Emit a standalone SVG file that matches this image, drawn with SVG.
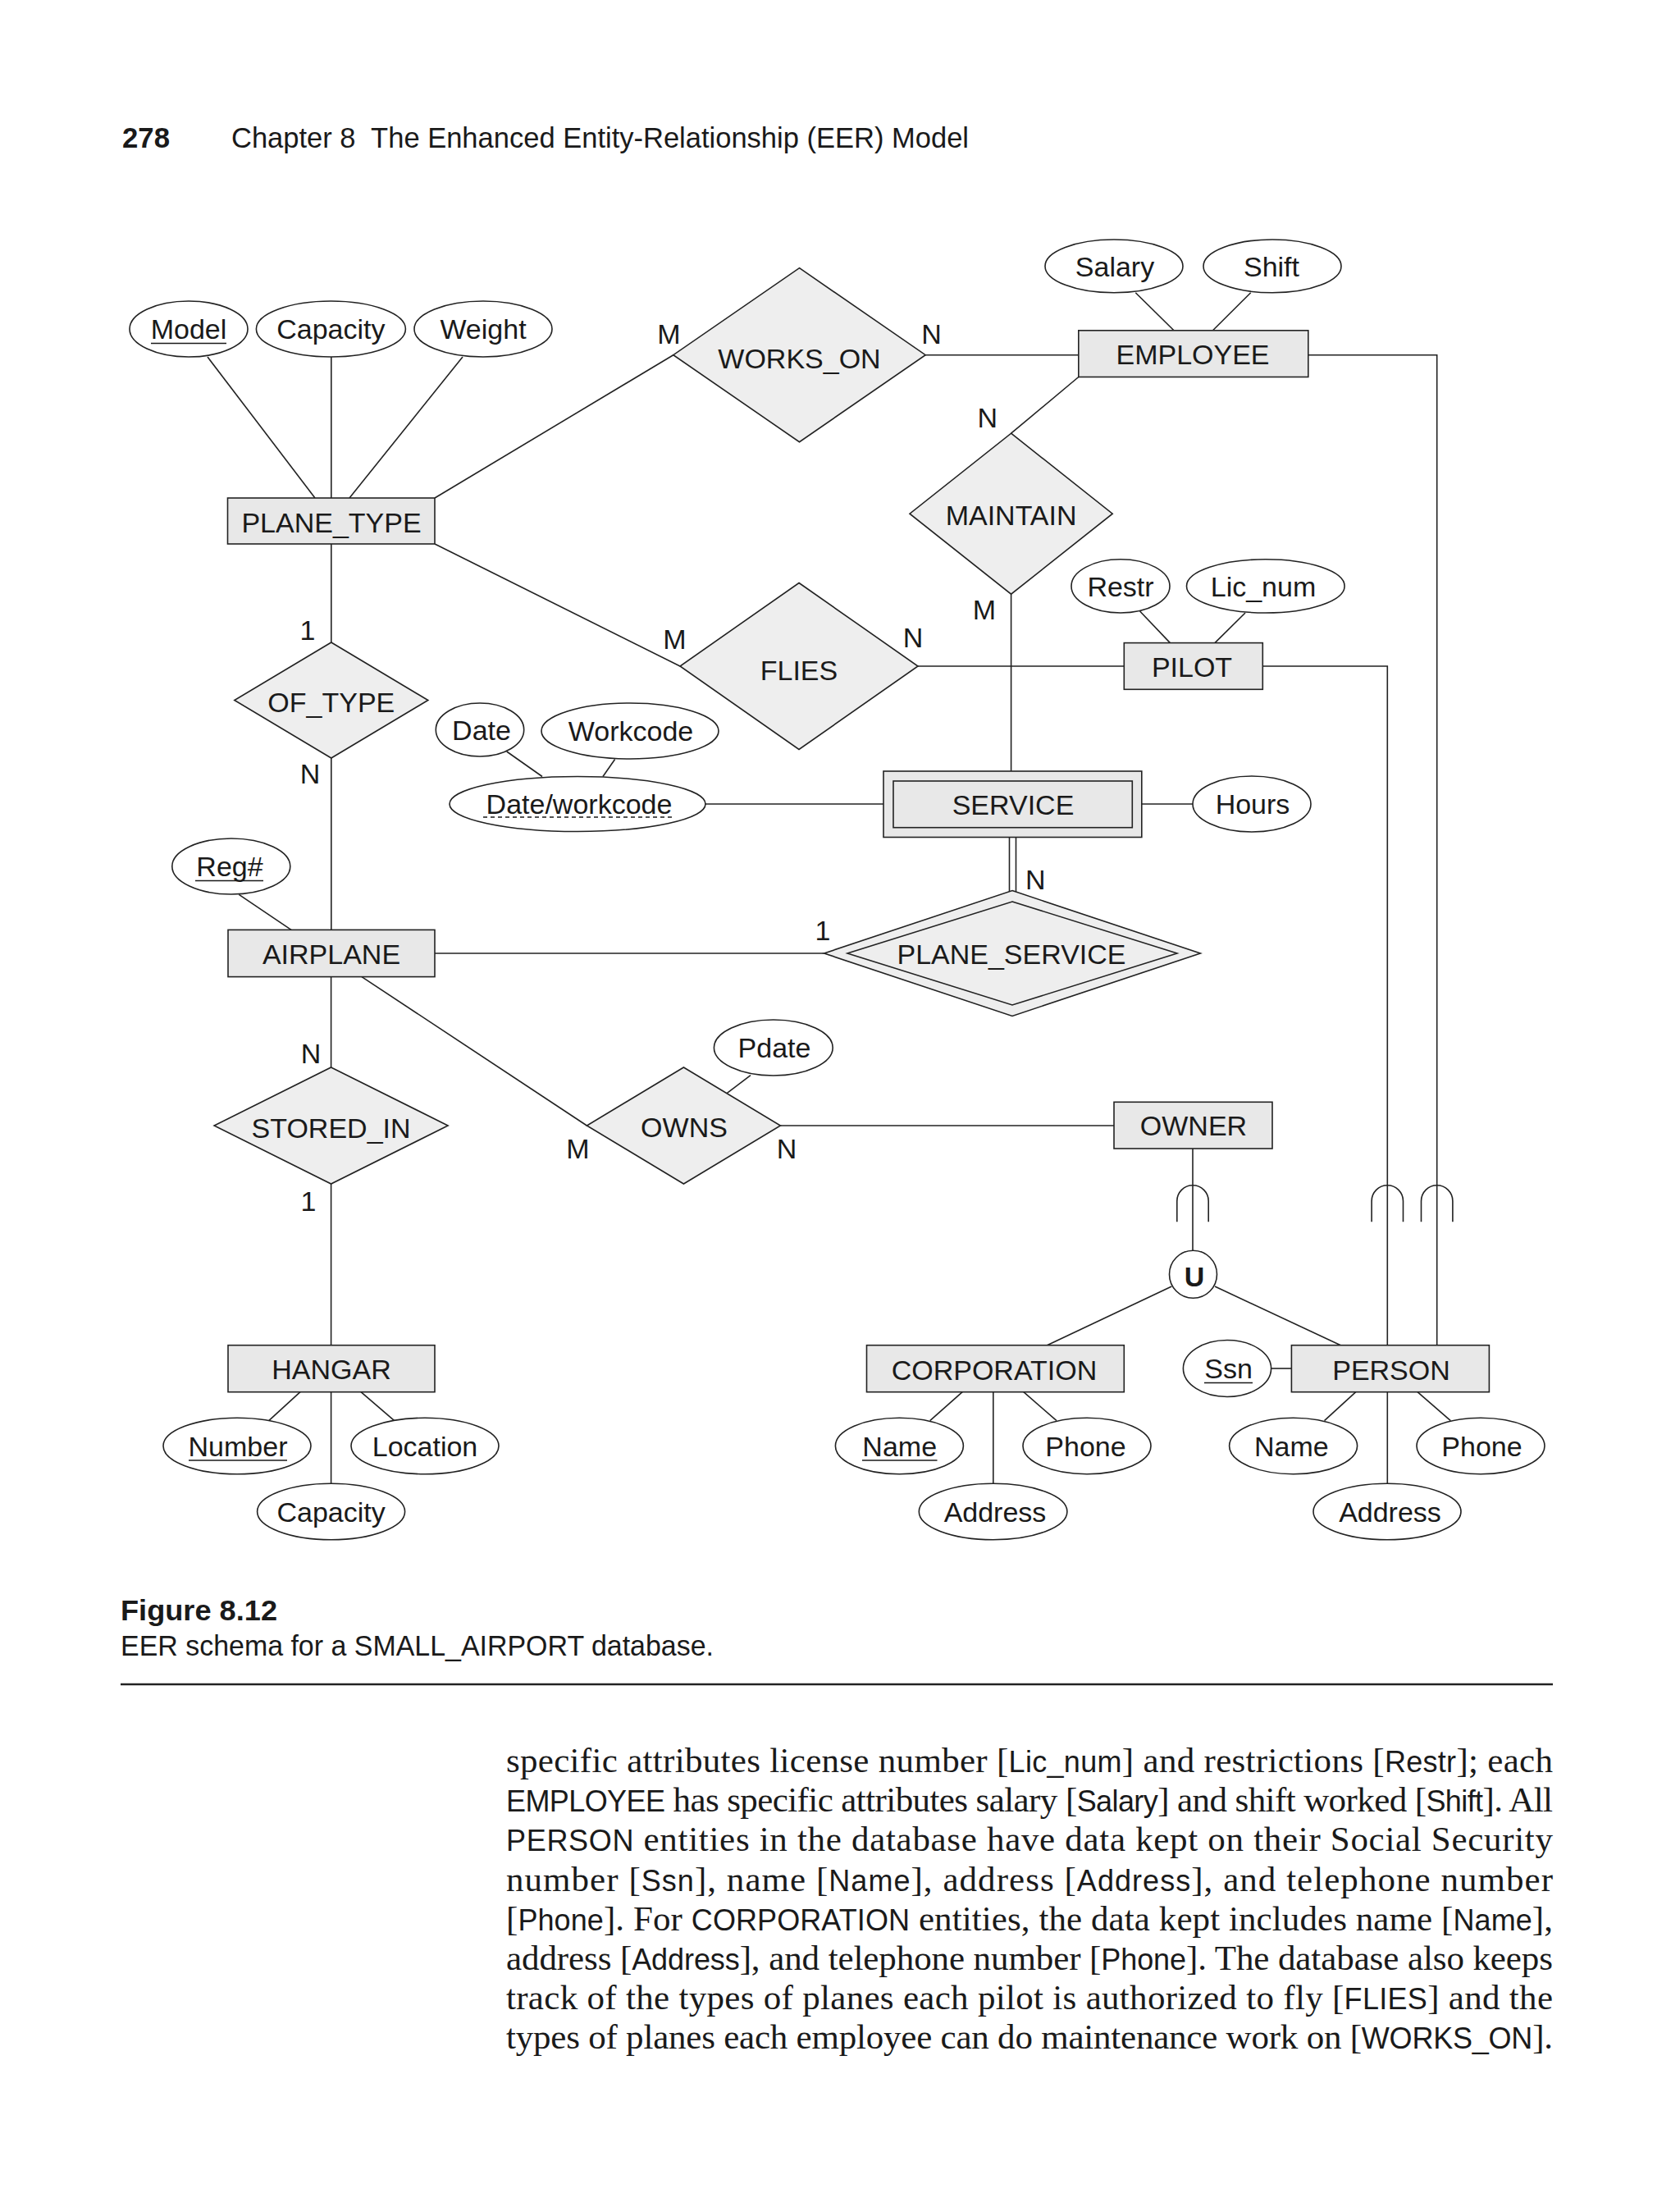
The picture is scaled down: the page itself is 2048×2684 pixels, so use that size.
<svg xmlns="http://www.w3.org/2000/svg" width="2048" height="2684" viewBox="0 0 2048 2684">
<style>
.ent{fill:#e8e8e8;stroke:#222;stroke-width:1.6}
.rel{fill:#eeeeee;stroke:#222;stroke-width:1.6}
.att{fill:#fff;stroke:#222;stroke-width:1.6}
.ln{stroke:#222;stroke-width:1.6;fill:none}
.ul{stroke:#1a1a1a;stroke-width:1.6}
.lbl{font-family:"Liberation Sans",Arial,sans-serif;font-size:34px;fill:#1a1a1a;text-anchor:middle}
.card{font-family:"Liberation Sans",Arial,sans-serif;font-size:34px;fill:#1a1a1a;text-anchor:middle}
.hdr{font-family:"Liberation Sans",Arial,sans-serif;font-size:35px;fill:#1a1a1a}
.body{font-family:"Liberation Serif","Times New Roman",serif;font-size:43px;fill:#1a1a1a}
.s{font-family:"Liberation Sans",Arial,sans-serif;font-size:36px}
</style>
<rect x="0" y="0" width="2048" height="2684" fill="#fff"/>

<!-- header -->
<text class="hdr" x="149" y="180" font-weight="bold" textLength="58" lengthAdjust="spacingAndGlyphs">278</text>
<text class="hdr" x="282" y="180" textLength="899" lengthAdjust="spacingAndGlyphs" xml:space="preserve">Chapter 8  The Enhanced Entity-Relationship (EER) Model</text>

<!-- connectors -->
<g id="connectors">
<line class="ln" x1="253" y1="435" x2="384" y2="607"/>
<line class="ln" x1="403.8" y1="435" x2="403.8" y2="607"/>
<line class="ln" x1="564" y1="435" x2="426" y2="607"/>
<line class="ln" x1="530" y1="607" x2="820.8" y2="432.7"/>
<line class="ln" x1="1128.2" y1="432.7" x2="1314.8" y2="432.7"/>
<line class="ln" x1="1384.3" y1="356.8" x2="1431" y2="402.8"/>
<line class="ln" x1="1524.7" y1="356.8" x2="1478.5" y2="402.8"/>
<polyline class="ln" points="1594.8,432.7 1751.7,432.7 1751.7,1639.7"/>
<line class="ln" x1="1314.8" y1="459.5" x2="1232.6" y2="528.2"/>
<line class="ln" x1="1232.6" y1="724.2" x2="1232.6" y2="940"/>
<line class="ln" x1="530" y1="663" x2="829" y2="812"/>
<line class="ln" x1="1119" y1="812" x2="1370.3" y2="812"/>
<line class="ln" x1="1389.6" y1="745" x2="1426.4" y2="783.6"/>
<line class="ln" x1="1518" y1="747" x2="1481" y2="783.6"/>
<polyline class="ln" points="1539.3,812 1691.3,812 1691.3,1639.7"/>
<line class="ln" x1="403.8" y1="663" x2="403.8" y2="783"/>
<line class="ln" x1="403.8" y1="924" x2="403.8" y2="1133.4"/>
<line class="ln" x1="617.7" y1="916" x2="661" y2="946.5"/>
<line class="ln" x1="749.6" y1="925.5" x2="735" y2="946.5"/>
<line class="ln" x1="860" y1="980" x2="1077" y2="980"/>
<line class="ln" x1="1391.8" y1="980" x2="1454" y2="980"/>
<line class="ln" x1="1230.5" y1="1020.5" x2="1230.5" y2="1087"/>
<line class="ln" x1="1238.5" y1="1020.5" x2="1238.5" y2="1087"/>
<line class="ln" x1="291.3" y1="1090.3" x2="355" y2="1133.4"/>
<line class="ln" x1="530" y1="1162" x2="1004.6" y2="1162"/>
<line class="ln" x1="403.6" y1="1190.6" x2="403.6" y2="1301"/>
<line class="ln" x1="441" y1="1190.6" x2="715.4" y2="1372"/>
<line class="ln" x1="915" y1="1310.6" x2="886.4" y2="1332.3"/>
<line class="ln" x1="951.4" y1="1372" x2="1358" y2="1372"/>
<line class="ln" x1="1454" y1="1400" x2="1454" y2="1524.3"/>
<line class="ln" x1="1428.3" y1="1568" x2="1276.5" y2="1639.7"/>
<line class="ln" x1="1481" y1="1568" x2="1634.3" y2="1639.7"/>
<path class="ln" d="M1434.8 1489.3 V1464 A19.2 19.2 0 0 1 1473.2 1464 V1489.3"/>
<path class="ln" d="M1672.1 1489.3 V1464 A19.2 19.2 0 0 1 1710.5 1464 V1489.3"/>
<path class="ln" d="M1732.5 1489.3 V1464 A19.2 19.2 0 0 1 1770.9 1464 V1489.3"/>
<line class="ln" x1="403.6" y1="1443" x2="403.6" y2="1639.7"/>
<line class="ln" x1="366" y1="1696.7" x2="327.7" y2="1731.7"/>
<line class="ln" x1="403.6" y1="1696.7" x2="403.6" y2="1808.3"/>
<line class="ln" x1="440" y1="1696.7" x2="480.7" y2="1731.7"/>
<line class="ln" x1="1173.2" y1="1696.7" x2="1133.7" y2="1731.7"/>
<line class="ln" x1="1210.8" y1="1696.7" x2="1210.8" y2="1808.3"/>
<line class="ln" x1="1247.8" y1="1696.7" x2="1288" y2="1731.7"/>
<line class="ln" x1="1549.5" y1="1668" x2="1574.4" y2="1668"/>
<line class="ln" x1="1652.8" y1="1696.7" x2="1614.5" y2="1731.7"/>
<line class="ln" x1="1691.3" y1="1696.7" x2="1691.3" y2="1808.3"/>
<line class="ln" x1="1728" y1="1696.7" x2="1768.3" y2="1731.7"/>
</g>

<!-- cardinalities -->
<g id="cardinalities">
<text class="card" x="815.5" y="419">M</text>
<text class="card" x="1135.5" y="419">N</text>
<text class="card" x="1203.7" y="521">N</text>
<text class="card" x="1200" y="755">M</text>
<text class="card" x="822.5" y="791">M</text>
<text class="card" x="1113" y="789">N</text>
<text class="card" x="375" y="780">1</text>
<text class="card" x="378" y="955">N</text>
<text class="card" x="1262.4" y="1084">N</text>
<text class="card" x="1003" y="1146">1</text>
<text class="card" x="379" y="1295.5">N</text>
<text class="card" x="376" y="1476">1</text>
<text class="card" x="704.3" y="1412">M</text>
<text class="card" x="959" y="1412">N</text>
</g>

<!-- entities -->
<g id="PLANE_TYPE"><rect class="ent" x="277.5" y="607" width="252.5" height="56"/><text class="lbl" x="404" y="649">PLANE_TYPE</text></g>
<g id="EMPLOYEE"><rect class="ent" x="1314.8" y="402.8" width="280" height="56.7"/><text class="lbl" x="1454" y="444">EMPLOYEE</text></g>
<g id="PILOT"><rect class="ent" x="1370.3" y="783.6" width="169" height="56.7"/><text class="lbl" x="1453" y="825">PILOT</text></g>
<g id="SERVICE"><rect class="ent" x="1077" y="940" width="314.8" height="80.5"/><rect class="ent" x="1089" y="952" width="291.3" height="56.7"/><text class="lbl" x="1235" y="993">SERVICE</text></g>
<g id="AIRPLANE"><rect class="ent" x="278" y="1133.4" width="252" height="57.2"/><text class="lbl" x="404" y="1175">AIRPLANE</text></g>
<g id="OWNER"><rect class="ent" x="1358" y="1343.3" width="193" height="56.7"/><text class="lbl" x="1455" y="1384">OWNER</text></g>
<g id="HANGAR"><rect class="ent" x="278" y="1639.7" width="252" height="57"/><text class="lbl" x="404" y="1681">HANGAR</text></g>
<g id="CORPORATION"><rect class="ent" x="1056.5" y="1639.7" width="313.8" height="57"/><text class="lbl" x="1212" y="1682">CORPORATION</text></g>
<g id="PERSON"><rect class="ent" x="1574.4" y="1639.7" width="241" height="57"/><text class="lbl" x="1696" y="1682">PERSON</text></g>

<!-- relationships -->
<g id="WORKS_ON"><polygon class="rel" points="974.5,326.7 1128.2,432.7 974.5,538.7 820.8,432.7"/><text class="lbl" x="974.5" y="449">WORKS_ON</text></g>
<g id="MAINTAIN"><polygon class="rel" points="1232.6,528.2 1356.2,626.2 1232.6,724.2 1109,626.2"/><text class="lbl" x="1232.6" y="639.5">MAINTAIN</text></g>
<g id="FLIES"><polygon class="rel" points="974,710.5 1119,812 974,913.5 829,812"/><text class="lbl" x="974" y="829">FLIES</text></g>
<g id="OF_TYPE"><polygon class="rel" points="403.8,783 521.8,853.5 403.8,924 285.8,853.5"/><text class="lbl" x="403.8" y="868">OF_TYPE</text></g>
<g id="PLANE_SERVICE"><polygon class="rel" points="1234,1085.6 1463.4,1162 1234,1238.4 1004.6,1162"/><polygon class="rel" points="1234,1099 1435,1162 1234,1225 1033,1162"/><text class="lbl" x="1233" y="1175">PLANE_SERVICE</text></g>
<g id="STORED_IN"><polygon class="rel" points="403.6,1301 546.1,1372 403.6,1443 261.1,1372"/><text class="lbl" x="403.6" y="1386.5">STORED_IN</text></g>
<g id="OWNS"><polygon class="rel" points="833.4,1301 951.4,1372 833.4,1443 715.4,1372"/><text class="lbl" x="834" y="1386">OWNS</text></g>

<!-- attributes -->
<g id="attr_Model"><ellipse class="att" cx="230" cy="401" rx="72" ry="34"/><text class="lbl" x="230" y="413">Model</text><line class="ul" x1="184" y1="418.5" x2="276" y2="418.5"/></g>
<g id="attr_Capacity_PT"><ellipse class="att" cx="403.4" cy="401" rx="91" ry="34"/><text class="lbl" x="403.4" y="413">Capacity</text></g>
<g id="attr_Weight"><ellipse class="att" cx="589" cy="401" rx="84" ry="34"/><text class="lbl" x="589" y="413">Weight</text></g>
<g id="attr_Salary"><ellipse class="att" cx="1358" cy="324.4" rx="84" ry="32.4"/><text class="lbl" x="1359" y="336.5">Salary</text></g>
<g id="attr_Shift"><ellipse class="att" cx="1551" cy="324.4" rx="84" ry="32.4"/><text class="lbl" x="1550" y="336.5">Shift</text></g>
<g id="attr_Restr"><ellipse class="att" cx="1366" cy="714.4" rx="60" ry="32.6"/><text class="lbl" x="1366" y="726.5">Restr</text></g>
<g id="attr_Lic_num"><ellipse class="att" cx="1542.8" cy="714.4" rx="96.3" ry="32.6"/><text class="lbl" x="1540" y="726.5">Lic_num</text></g>
<g id="attr_Date"><ellipse class="att" cx="585" cy="889.5" rx="53.7" ry="32.5"/><text class="lbl" x="587" y="901.5">Date</text></g>
<g id="attr_Workcode"><ellipse class="att" cx="768" cy="891" rx="108" ry="34"/><text class="lbl" x="769" y="903">Workcode</text></g>
<g id="attr_Datework"><ellipse class="att" cx="704" cy="980" rx="156" ry="33.5"/><text class="lbl" x="706" y="992">Date/workcode</text><line class="ul" x1="589" y1="996" x2="823" y2="996" stroke-dasharray="5,4"/></g>
<g id="attr_Hours"><ellipse class="att" cx="1526" cy="980" rx="72" ry="34"/><text class="lbl" x="1527" y="992">Hours</text></g>
<g id="attr_Reg"><ellipse class="att" cx="281.8" cy="1056" rx="72" ry="34"/><text class="lbl" x="280" y="1068">Reg#</text><line class="ul" x1="238" y1="1073.5" x2="321" y2="1073.5"/></g>
<g id="attr_Pdate"><ellipse class="att" cx="942.8" cy="1277" rx="72.4" ry="34"/><text class="lbl" x="944" y="1289">Pdate</text></g>
<g id="attr_Number"><ellipse class="att" cx="289" cy="1762.5" rx="90" ry="34.2"/><text class="lbl" x="290" y="1774.5">Number</text><line class="ul" x1="230" y1="1780" x2="350" y2="1780"/></g>
<g id="attr_Location"><ellipse class="att" cx="518" cy="1762.5" rx="90" ry="34.2"/><text class="lbl" x="518" y="1774.5">Location</text></g>
<g id="attr_Capacity_H"><ellipse class="att" cx="403.6" cy="1842.5" rx="90" ry="34.2"/><text class="lbl" x="403.6" y="1854.5">Capacity</text></g>
<g id="attr_Name_C"><ellipse class="att" cx="1096.4" cy="1762.5" rx="78" ry="34.2"/><text class="lbl" x="1096.7" y="1774.5">Name</text><line class="ul" x1="1051" y1="1780" x2="1142.5" y2="1780"/></g>
<g id="attr_Phone_C"><ellipse class="att" cx="1325" cy="1762.5" rx="78" ry="34.2"/><text class="lbl" x="1323.5" y="1774.5">Phone</text></g>
<g id="attr_Address_C"><ellipse class="att" cx="1210.6" cy="1842.5" rx="90.3" ry="34.2"/><text class="lbl" x="1213" y="1854.5">Address</text></g>
<g id="attr_Ssn"><ellipse class="att" cx="1496" cy="1668" rx="53.6" ry="34.5"/><text class="lbl" x="1497.5" y="1680">Ssn</text><line class="ul" x1="1468" y1="1685.5" x2="1527" y2="1685.5"/></g>
<g id="attr_Name_P"><ellipse class="att" cx="1576.6" cy="1762.5" rx="78" ry="34.2"/><text class="lbl" x="1574.4" y="1774.5">Name</text></g>
<g id="attr_Phone_P"><ellipse class="att" cx="1805" cy="1762.5" rx="78" ry="34.2"/><text class="lbl" x="1806.5" y="1774.5">Phone</text></g>
<g id="attr_Address_P"><ellipse class="att" cx="1691" cy="1842.5" rx="90" ry="34.2"/><text class="lbl" x="1694.5" y="1854.5">Address</text></g>

<!-- union category -->
<g id="union_U"><circle class="att" cx="1454.5" cy="1553.3" r="29"/><text class="lbl" x="1456" y="1567.5" font-weight="bold" font-size="36px">U</text></g>

<!-- caption -->
<text class="hdr" x="147" y="1975" font-weight="bold" textLength="191" lengthAdjust="spacingAndGlyphs">Figure 8.12</text>
<text class="hdr" x="147" y="2018" font-size="34px" textLength="723" lengthAdjust="spacingAndGlyphs">EER schema for a SMALL_AIRPORT database.</text>
<line x1="147" y1="2053" x2="1893" y2="2053" stroke="#222" stroke-width="2.5"/>

<!-- body text -->
<text class="body" x="617" y="2160" textLength="1276" lengthAdjust="spacing">specific attributes license number [<tspan class="s">Lic_num</tspan>] and restrictions [<tspan class="s">Restr</tspan>]; each</text>
<text class="body" x="617" y="2208.2" textLength="1276" lengthAdjust="spacing"><tspan class="s">EMPLOYEE</tspan> has specific attributes salary [<tspan class="s">Salary</tspan>] and shift worked [<tspan class="s">Shift</tspan>]. All</text>
<text class="body" x="617" y="2256.3" textLength="1276" lengthAdjust="spacing"><tspan class="s">PERSON</tspan> entities in the database have data kept on their Social Security</text>
<text class="body" x="617" y="2304.5" textLength="1276" lengthAdjust="spacing">number [<tspan class="s">Ssn</tspan>], name [<tspan class="s">Name</tspan>], address [<tspan class="s">Address</tspan>], and telephone number</text>
<text class="body" x="617" y="2352.7" textLength="1276" lengthAdjust="spacing">[<tspan class="s">Phone</tspan>]. For <tspan class="s">CORPORATION</tspan> entities, the data kept includes name [<tspan class="s">Name</tspan>],</text>
<text class="body" x="617" y="2400.8" textLength="1276" lengthAdjust="spacing">address [<tspan class="s">Address</tspan>], and telephone number [<tspan class="s">Phone</tspan>]. The database also keeps</text>
<text class="body" x="617" y="2449" textLength="1276" lengthAdjust="spacing">track of the types of planes each pilot is authorized to fly [<tspan class="s">FLIES</tspan>] and the</text>
<text class="body" x="617" y="2497.2" textLength="1276" lengthAdjust="spacing">types of planes each employee can do maintenance work on [<tspan class="s">WORKS_ON</tspan>].</text>
</svg>
